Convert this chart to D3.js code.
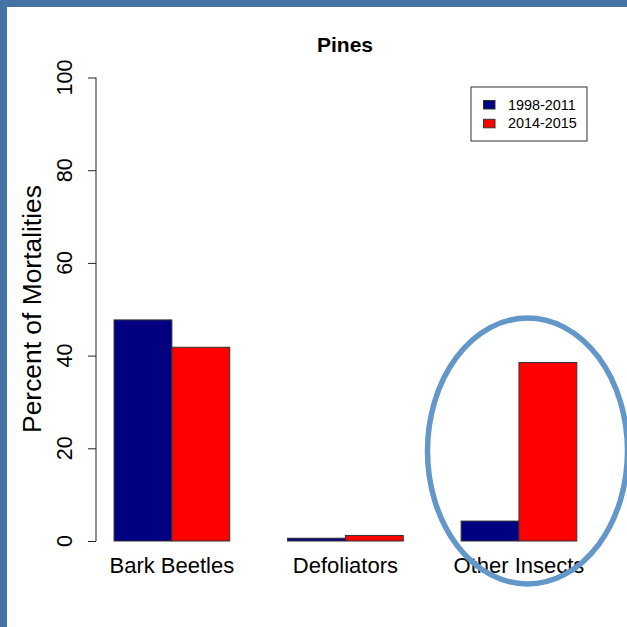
<!DOCTYPE html>
<html><head><meta charset="utf-8">
<script src="https://cdn.jsdelivr.net/npm/d3@7"></script>
<style>html,body{margin:0;padding:0;background:#fff;}svg{display:block;}</style>
</head><body>
<script>
const categories = ["Bark Beetles", "Defoliators", "Other Insects"];
const seriesNames = ["1998-2011", "2014-2015"];
const values1998 = [47.7, 0.6, 4.3];
const values2014 = [41.8, 1.2, 38.5];
const seriesColors = ["#000080", "#ff0000"];
const yTicks = [0, 20, 40, 60, 80, 100];

const W = 627, H = 627;
const svg = d3.select("body").append("svg").attr("width", W).attr("height", H);
const font = "Liberation Sans, Arial, Helvetica, sans-serif";

// frame
svg.append("rect").attr("x", 0).attr("y", 0).attr("width", W).attr("height", H).attr("fill", "#fff");
svg.append("rect").attr("x", 0).attr("y", 0).attr("width", 7).attr("height", H).attr("fill", "#4673a6");
svg.append("rect").attr("x", 0).attr("y", 0).attr("width", W).attr("height", 7).attr("fill", "#4673a6");

// scales (R barplot style: unit space units, bar at units)
const x = d3.scaleLinear().domain([0, 9]).range([56.2, 576.8]);
const y = d3.scaleLinear().domain([0, 100]).range([541, 77.5]);

const series = [values1998, values2014];
const g = svg.append("g");
categories.forEach((c, i) => {
  series.forEach((vals, s) => {
    const u0 = 1 + i * 3 + s;
    g.append("rect")
      .attr("x", x(u0)).attr("width", x(u0 + 1) - x(u0))
      .attr("y", y(vals[i])).attr("height", y(0) - y(vals[i]))
      .attr("fill", seriesColors[s]).attr("stroke", "#333").attr("stroke-width", 1);
  });
  svg.append("text").attr("x", x(2 + i * 3)).attr("y", 573)
    .attr("text-anchor", "middle").attr("font-family", font).attr("font-size", 22)
    .attr("fill", "#000").text(c);
});

// y axis
const ax = svg.append("g").attr("transform", "translate(96,0)")
  .call(d3.axisLeft(y).tickValues(yTicks).tickSize(8).tickFormat(d3.format("d")));
ax.selectAll(".domain").attr("stroke", "#222").attr("d", `M0,${y(0)}V${y(100)}`);
ax.selectAll(".tick line").attr("stroke", "#222");
ax.selectAll(".tick text").remove();
yTicks.forEach(t => {
  svg.append("text").attr("transform", `translate(71.5,${y(t)}) rotate(-90)`)
    .attr("text-anchor", "middle").attr("font-family", font).attr("font-size", 21.5)
    .attr("fill", "#000").text(t);
});

// axis title
svg.append("text").attr("transform", `translate(41,309) rotate(-90)`)
  .attr("text-anchor", "middle").attr("font-family", font).attr("font-size", 26.4)
  .attr("fill", "#000").text("Percent of Mortalities");

// title
svg.append("text").attr("x", 345).attr("y", 51.5).attr("text-anchor", "middle")
  .attr("font-family", font).attr("font-size", 21).attr("font-weight", "bold")
  .attr("fill", "#000").text("Pines");

// legend
const lg = svg.append("g");
lg.append("rect").attr("x", 471).attr("y", 87).attr("width", 116).attr("height", 54)
  .attr("fill", "#fff").attr("stroke", "#333").attr("stroke-width", 1);
seriesNames.forEach((n, i) => {
  lg.append("rect").attr("x", 483.5).attr("y", 100.5 + i * 18.8).attr("width", 11.5).attr("height", 8.5)
    .attr("fill", seriesColors[i]).attr("stroke", "#333").attr("stroke-width", 1);
  lg.append("text").attr("x", 508).attr("y", 109.5 + i * 18.8)
    .attr("font-family", font).attr("font-size", 14.4).attr("fill", "#000").text(n);
});

// annotation ellipse
svg.append("ellipse").attr("cx", 527.5).attr("cy", 451).attr("rx", 100).attr("ry", 133)
  .attr("fill", "none").attr("stroke", "#6497c9").attr("stroke-width", 5.5);
</script>
</body></html>
